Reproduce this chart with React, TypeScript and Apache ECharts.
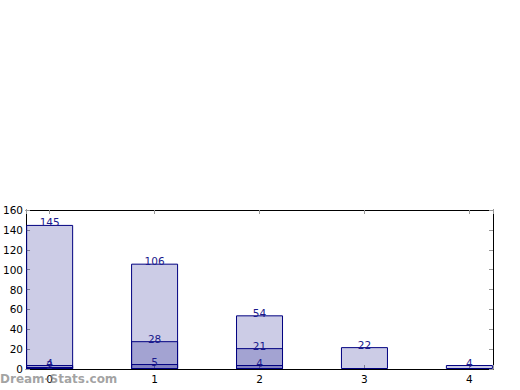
import React, { useEffect, useRef } from "react";
import * as echarts from "echarts";

const categories = [0, 1, 2, 3, 4];
const totalValues = [145, 106, 54, 22, 4];
const midValues: (number | null)[] = [4, 28, 21, null, null];
const lowValues: (number | null)[] = [2, 5, 4, null, null];
const yTicks = [0, 20, 40, 60, 80, 100, 120, 140, 160];

const NAVY = "#000080";
const FONT = "DejaVu Sans";

function toData(vals: (number | null)[]) {
  return vals
    .map((v, i) => (v == null ? null : [categories[i], v]))
    .filter((d) => d !== null);
}

function barSeries(vals: (number | null)[]) {
  return {
    type: "bar",
    xAxisIndex: 0,
    yAxisIndex: 0,
    data: toData(vals),
    barWidth: 47,
    barGap: "-100%",
    itemStyle: { color: "rgba(0,0,128,0.2)", borderColor: NAVY, borderWidth: 1 },
    label: {
      show: true,
      position: "top",
      distance: -3,
      color: "#1a1a8c",
      fontFamily: FONT,
      fontSize: 10.5,
      formatter: (p: any) => String(p.value[1]),
    },
  };
}

export default function App() {
  const ref = useRef<HTMLDivElement>(null);
  useEffect(() => {
    if (!ref.current) return;
    const chart = echarts.init(ref.current, null, { renderer: "svg" });
    const intLabel = (v: number) =>
      Math.abs(v - Math.round(v)) < 1e-9 ? String(Math.round(v)) : "";
    const tickStyle = { show: true, inside: true, length: 4, lineStyle: { color: "#999", width: 1 } };
    const line = { show: true, onZero: false, lineStyle: { color: "#000", width: 1 } };
    chart.setOption({
      animation: false,
      grid: { left: 25, top: 210, right: 27, bottom: 21, containLabel: false },
      xAxis: [
        {
          type: "value",
          position: "bottom",
          min: -0.225,
          max: 4.225,
          splitNumber: 5,
          splitLine: { show: false },
          axisLine: line,
          axisTick: tickStyle,
          axisLabel: { formatter: intLabel, color: "#000", fontFamily: FONT, fontSize: 10.5, margin: 4 },
        },
        {
          type: "value",
          position: "top",
          min: -0.225,
          max: 4.225,
          splitNumber: 5,
          splitLine: { show: false },
          axisLine: line,
          axisTick: tickStyle,
          axisLabel: { show: false },
        },
      ],
      yAxis: [
        {
          type: "value",
          position: "left",
          min: yTicks[0],
          max: yTicks[yTicks.length - 1],
          interval: yTicks[1] - yTicks[0],
          splitLine: { show: false },
          axisLine: line,
          axisTick: tickStyle,
          axisLabel: { color: "#000", fontFamily: FONT, fontSize: 10.5, margin: 3 },
        },
        {
          type: "value",
          position: "right",
          min: yTicks[0],
          max: yTicks[yTicks.length - 1],
          interval: yTicks[1] - yTicks[0],
          splitLine: { show: false },
          axisLine: line,
          axisTick: tickStyle,
          axisLabel: { show: false },
        },
      ],
      series: [barSeries(totalValues), barSeries(midValues), barSeries(lowValues)],
      graphic: [
        {
          type: "text",
          left: 0,
          top: 373,
          z: 100,
          style: {
            text: "Dream-Stats.com",
            fill: "rgba(128,128,128,0.72)",
            font: `600 12px "${FONT}"`,
          },
        },
      ],
    });
    return () => chart.dispose();
  }, []);
  return (
    <div
      ref={ref}
      style={{ position: "absolute", left: 0, top: 0, width: 520, height: 390 }}
    />
  );
}
